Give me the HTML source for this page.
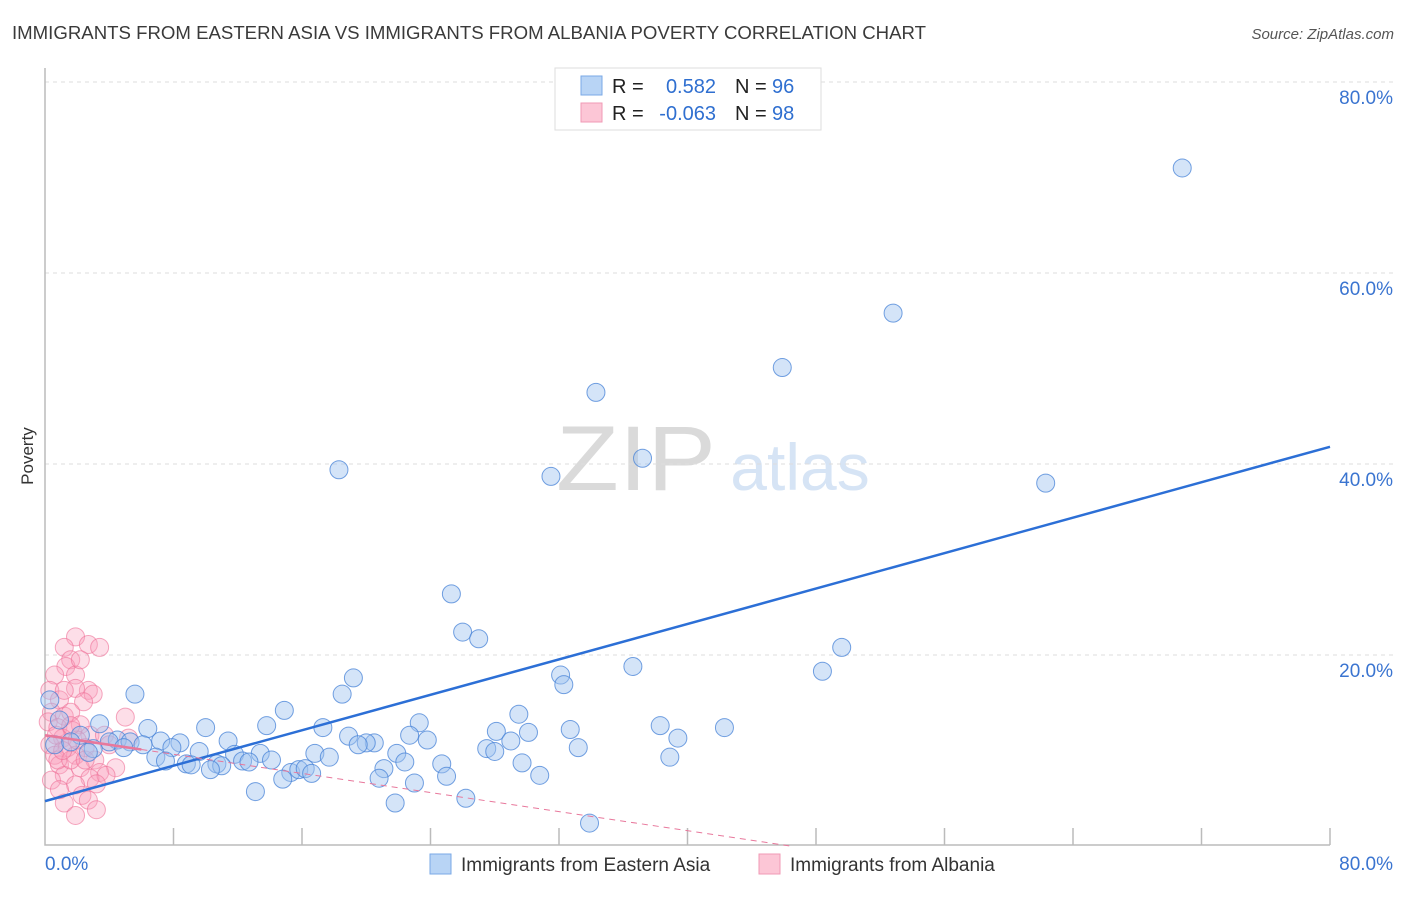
<!DOCTYPE html>
<html><head><meta charset="utf-8"><style>
body{margin:0;background:#fff;font-family:"Liberation Sans",sans-serif}
svg text{font-family:"Liberation Sans",sans-serif}
</style></head><body>
<svg id="c" width="1406" height="892" xmlns="http://www.w3.org/2000/svg">
<text x="12" y="39" font-size="18" fill="#3a3a3a" textLength="914" lengthAdjust="spacingAndGlyphs">IMMIGRANTS FROM EASTERN ASIA VS IMMIGRANTS FROM ALBANIA POVERTY CORRELATION CHART</text>
<text x="1394" y="39" font-size="15" fill="#555" text-anchor="end" font-style="italic">Source: ZipAtlas.com</text>
<text x="33" y="456" font-size="17" fill="#333" text-anchor="middle" transform="rotate(-90 33 456)">Poverty</text>
<text x="636" y="490" font-size="92" fill="#dadada" font-family="Liberation Serif" text-anchor="middle" textLength="160" lengthAdjust="spacingAndGlyphs">ZIP</text>
<text x="800" y="490" font-size="66" fill="#d6e4f5" text-anchor="middle">atlas</text>
<g id="grid"></g><g id="pink"></g><g id="blue"></g><g id="lines"></g>
<g>
<rect x="555" y="68" width="266" height="62" fill="#fff" stroke="#ddd"/>
<rect x="581" y="76" width="21" height="19" fill="#b8d4f5" stroke="#7aa8e6"/>
<rect x="581" y="103" width="21" height="19" fill="#fcc6d6" stroke="#f09ab5"/>
<text x="612" y="93" font-size="20" fill="#222">R = </text><text x="716" y="93" font-size="20" fill="#2f6fd0" text-anchor="end">0.582</text>
<text x="735" y="93" font-size="20" fill="#222">N = </text><text x="772" y="93" font-size="20" fill="#2f6fd0">96</text>
<text x="612" y="120" font-size="20" fill="#222">R = </text><text x="716" y="120" font-size="20" fill="#2f6fd0" text-anchor="end">-0.063</text>
<text x="735" y="120" font-size="20" fill="#222">N = </text><text x="772" y="120" font-size="20" fill="#2f6fd0">98</text>
</g>
<g>
<rect x="430" y="854" width="21" height="20" fill="#b8d4f5" stroke="#7aa8e6"/>
<text x="461" y="871" font-size="19" fill="#333">Immigrants from Eastern Asia</text>
<rect x="759" y="854" width="21" height="20" fill="#fcc6d6" stroke="#f09ab5"/>
<text x="790" y="871" font-size="19" fill="#333">Immigrants from Albania</text>
</g>
</svg>
<script>
const yTicks=[20,40,60,80];
const yTickLabels=["20.0%","40.0%","60.0%","80.0%"];
const xLabels=["0.0%","80.0%"];
const blueX=[70.8,52.8,45.9,34.3,37.2,31.5,18.3,62.3,25.3,26.0,27.0,49.6,48.4,36.6,32.1,32.3,19.2,18.5,5.6,14.9,29.5,23.3,13.8,17.3,10.0,6.4,3.4,38.3,42.3,32.7,28.1,30.1,22.7,18.9,39.4,23.8,29.0,7.2,8.4,20.5,11.4,20.0,19.5,4.5,4.0,5.3,6.1,4.9,3.0,7.9,9.6,27.5,28.0,33.2,16.8,13.4,21.9,11.8,6.9,7.5,12.3,14.1,17.7,22.4,38.9,8.8,9.1,10.7,11.0,12.7,24.7,29.7,10.3,15.3,15.8,16.2,16.6,21.1,25.0,30.8,20.8,14.8,23.0,13.1,21.8,26.2,33.9,0.3,0.6,2.2,1.6,2.7,0.9];
const blueY=[71.0,55.8,50.1,47.5,40.6,38.7,39.4,38.0,26.4,22.4,21.7,20.8,18.3,18.8,17.9,16.9,17.6,15.9,15.9,14.2,13.8,12.9,12.6,12.4,12.4,12.3,12.8,12.6,12.4,12.2,12.0,11.9,11.6,11.5,11.3,11.1,11.0,11.0,10.8,10.8,11.0,10.8,10.6,11.1,10.9,10.9,10.6,10.3,10.2,10.3,9.9,10.2,9.9,10.3,9.7,9.7,9.7,9.6,9.3,8.9,8.9,9.0,9.3,8.8,9.3,8.6,8.5,8.6,8.4,8.8,8.6,8.7,8.0,7.7,8.0,8.1,7.6,8.1,7.3,7.4,7.1,7.0,6.6,5.7,4.5,5.0,2.4,15.3,10.6,11.6,10.9,9.8,13.2];
const pinkX=[1.9,2.7,3.4,1.2,1.6,1.3,0.6,1.9,0.3,2.7,3.0,1.9,0.9,2.4,0.4,1.2,1.6,5.0,0.2,0.8,2.2,1.7,2.8,1.1,5.2,0.3,1.4,2.5,0.6,1.9,3.1,0.9,2.2,4.4,3.4,1.2,2.8,3.8,0.4,1.9,3.2,2.3,2.7,1.2,3.2,1.9,0.8,1.6,1.1,2.0,0.7,1.6,2.5,0.9,3.7,4.0,1.2,2.2];
const pinkY=[21.9,21.1,20.8,20.8,19.5,18.8,17.9,17.9,16.3,16.3,15.9,16.5,15.3,15.1,14.0,13.6,14.0,13.5,13.0,12.4,12.7,12.1,11.6,11.3,11.3,10.6,10.3,10.3,9.5,9.5,9.0,8.5,8.2,8.2,7.7,7.4,7.1,7.4,6.9,6.4,6.5,5.3,4.8,4.5,3.8,3.2,9.0,9.0,10.0,11.1,11.6,12.6,9.0,5.9,11.6,10.6,16.3,19.5];
const blueTrend=[4.7,41.8];
const pinkTrend=[11.6,-0.25];
const X=v=>45+v*16.0625, Y=v=>846-v*9.55;
const NS="http://www.w3.org/2000/svg";
function mk(p,t,a){const e=document.createElementNS(NS,t);for(const k in a)e.setAttribute(k,a[k]);document.getElementById(p).appendChild(e);return e;}
yTicks.forEach((t,i)=>{
 const l=mk('grid','line',{x1:45,x2:1395,y1:Y(t),y2:Y(t),stroke:'#ddd','stroke-dasharray':'4,4'});
 
 
 const tx=mk('grid','text',{x:1393,y:Y(t)+22,'font-size':19,fill:'#3a74d0','text-anchor':'end'});
 tx.textContent=yTickLabels[i];
 
 
});
const ax=mk('grid','path',{d:'M45,68 V845 H1330',stroke:'#bbb',fill:'none','stroke-width':1.5});


for(let i=1;i<=10;i++){const t=mk('grid','line',{x1:X(i*8),x2:X(i*8),y1:828,y2:845,stroke:'#bbb','stroke-width':1.5});
 
 }
[[0,'start',45],[1,'end',1393]].forEach(([i,a,x])=>{const t=mk('grid','text',{x:x,y:870,'font-size':19,fill:'#3a74d0','text-anchor':a});t.textContent=xLabels[i];
 
 });
pinkX.forEach((v,i)=>{const c=mk('pink','circle',{cx:X(v),cy:Y(pinkY[i]),r:9,fill:'rgba(248,160,188,0.35)',stroke:'rgba(238,110,150,0.6)','stroke-width':1});
 
 });
blueX.forEach((v,i)=>{const c=mk('blue','circle',{cx:X(v),cy:Y(blueY[i]),r:9,fill:'rgba(160,196,240,0.45)',stroke:'rgba(70,130,215,0.75)','stroke-width':1});
 
 });
const bl=mk('lines','line',{x1:X(0),y1:Y(blueTrend[0]),x2:X(80),y2:Y(blueTrend[1]),stroke:'#2c6fd6','stroke-width':2.5});


const pe=-pinkTrend[0]/pinkTrend[1];
const pd=mk('lines','line',{x1:X(6),y1:Y(pinkTrend[0]+pinkTrend[1]*6),x2:X(pe),y2:Y(0),stroke:'#e8789c','stroke-width':1,'stroke-dasharray':'6,5'});


const ps=mk('lines','line',{x1:X(0),y1:Y(pinkTrend[0]),x2:X(6),y2:Y(pinkTrend[0]+pinkTrend[1]*6),stroke:'#e8789c','stroke-width':2.5});


</script>
</body></html>
